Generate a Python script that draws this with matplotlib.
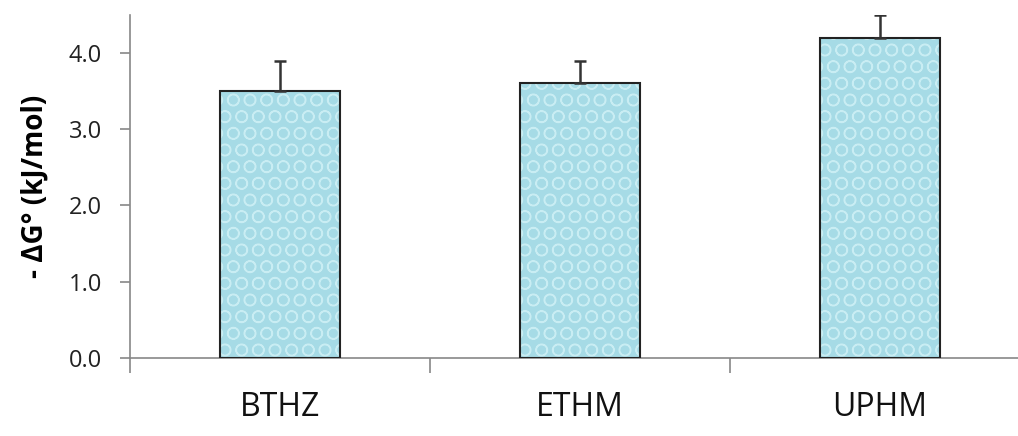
import numpy as np
import matplotlib.pyplot as plt

plt.rcParams['font.family'] = ['Open Sans', 'DejaVu Sans']

compounds = ['BTHZ', 'ETHM', 'UPHM']
dG = [3.5, 3.6, 4.2]
dG_err = [0.4, 0.3, 0.3]
yticks = [0.0, 1.0, 2.0, 3.0, 4.0]

fig = plt.figure(figsize=(10.18, 4.36), dpi=100)
ax = fig.add_axes([0.1277, 0.179, 0.884, 0.787])

x = np.arange(len(compounds))
# textured fill (water drops look), then outline on top
ax.bar(x, dG, width=0.4, color='#a6dbe6', edgecolor='#c9edf3', linewidth=0,
       hatch='O', zorder=2)
ax.bar(x, dG, width=0.4, color='none', edgecolor='#222222', linewidth=1.5, zorder=3)
ax.errorbar(x, dG, yerr=[np.zeros(len(dG)), dG_err], fmt='none', ecolor='#333333',
            elinewidth=1.8, capsize=4, capthick=1.8, zorder=4)

ax.set_xlim(-0.5, 2.5)
ax.set_ylim(0, 4.5)
ax.set_yticks(yticks)
ax.set_yticklabels([f'{v:.1f}' for v in yticks], fontsize=17, color='#222222')
ax.set_xticks(x)
ax.set_xticklabels(compounds, fontsize=23, color='#111111')
ax.tick_params(axis='x', length=0, pad=24)
ax.set_xticks([-0.5, 0.5, 1.5], minor=True)
ax.tick_params(axis='x', which='minor', length=11, width=1.2, color='#888888', direction='out')
ax.tick_params(axis='y', length=7, width=1.2, color='#888888', direction='out', pad=13)

ax.set_ylabel('- ΔG° (kJ/mol)', fontsize=20, fontweight='bold', labelpad=14)

for s in ['top', 'right']:
    ax.spines[s].set_visible(False)
for s in ['left', 'bottom']:
    ax.spines[s].set_color('#888888')
    ax.spines[s].set_linewidth(1.2)

fig.savefig('out.png', dpi=100)
